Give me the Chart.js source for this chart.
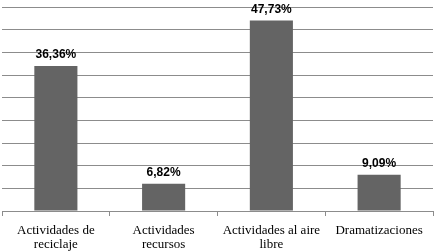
<!DOCTYPE html>
<html>
<head>
<meta charset="utf-8">
<script src="https://cdn.jsdelivr.net/npm/chart.js@4"></script>
<style>
  html, body { margin: 0; padding: 0; background: #fff; }
  #wrap { width: 435px; height: 251px; }
</style>
</head>
<body>
<div id="wrap"><canvas id="actividadesChart"></canvas></div>
<script>
var categorias = [
    ["Actividades de", "reciclaje"],
    ["Actividades", "recursos"],
    ["Actividades al aire", "libre"],
    ["Dramatizaciones"]
];
// counts out of 44 answers
var respuestas = [16, 3, 21, 4];
var porcentajes = ["36,36%", "6,82%", "47,73%", "9,09%"];

var etiquetas = {
    id: "etiquetas",
    afterDatasetsDraw: function (chart) {
        var ctx = chart.ctx;
        var meta = chart.getDatasetMeta(0);
        ctx.save();
        ctx.font = "bold 12px 'Liberation Sans', Arial, sans-serif";
        ctx.fillStyle = "#000";
        ctx.textAlign = "center";
        ctx.textBaseline = "alphabetic";
        meta.data.forEach(function (bar, i) {
            ctx.fillText(porcentajes[i], bar.x, bar.y - 8);
        });
        ctx.restore();
    }
};

new Chart("actividadesChart", {
    type: "bar",
    data: {
        labels: categorias,
        datasets: [{
            data: respuestas,
            backgroundColor: "#646464",
            barPercentage: 0.4,
            categoryPercentage: 1
        }]
    },
    options: {
        responsive: true,
        maintainAspectRatio: false,
        animation: false,
        layout: {
            padding: { left: 2, right: 2, top: 7, bottom: 0 }
        },
        plugins: {
            legend: { display: false },
            tooltip: { enabled: false }
        },
        scales: {
            y: {
                min: 0,
                max: 22.5,
                ticks: { display: false, stepSize: 2.5 },
                border: { display: false },
                grid: { color: "#8c8c8c", drawTicks: false },
                afterFit: function (axis) { axis.width = 0; }
            },
            x: {
                offset: true,
                border: { color: "#8c8c8c" },
                grid: {
                    offset: true,
                    drawOnChartArea: false,
                    tickLength: 5,
                    color: "#8c8c8c"
                },
                ticks: {
                    color: "#000",
                    padding: 8,
                    maxRotation: 0,
                    autoSkip: false,
                    font: { family: "'Liberation Serif', 'Times New Roman', serif", size: 13, lineHeight: 1.05 }
                },
                afterFit: function (axis) { axis.height = 40; }
            }
        }
    },
    plugins: [etiquetas]
});
</script>
</body>
</html>
